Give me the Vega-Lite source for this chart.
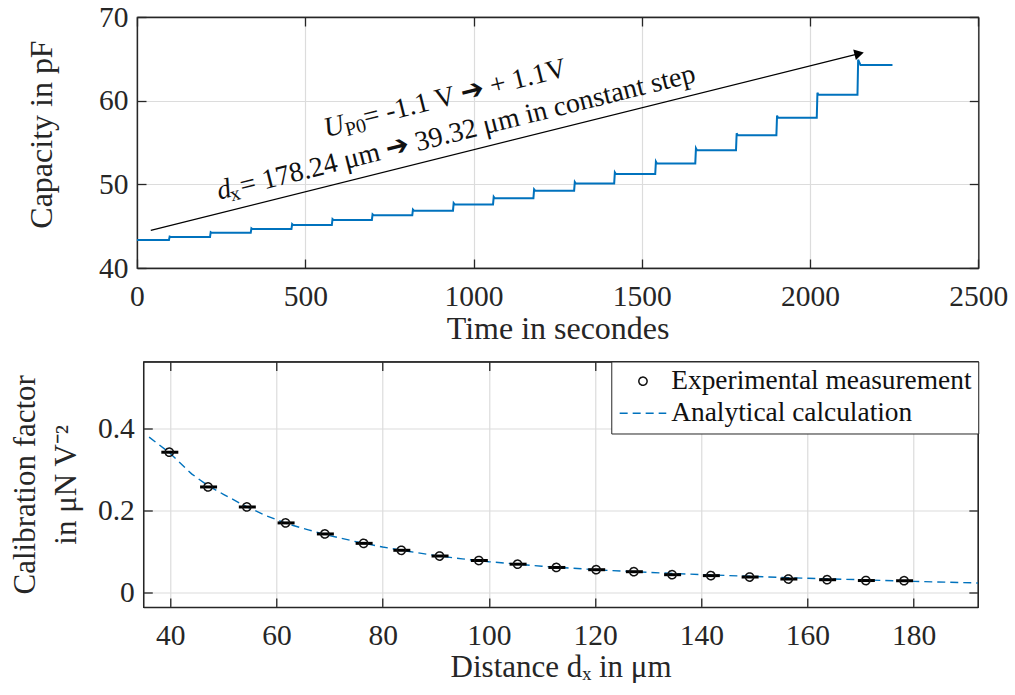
{
  "$schema": "https://vega.github.io/schema/vega-lite/v6.json",
  "background": "white",
  "padding": {"left": 8.7, "top": 1, "right": 5, "bottom": 0},
  "vconcat": [
    {
      "width": 841.3,
      "height": 251,
      "layer": [
        {
          "data": {"name": "series"},
          "mark": {"type": "line", "color": "#0072BD", "strokeWidth": 2},
          "encoding": {
            "x": {"field": "t", "type": "quantitative", "scale": {"domain": [0, 2500], "nice": false, "zero": false},
              "axis": {"orient": "bottom", "values": [0, 500, 1000, 1500, 2000, 2500], "title": "Time in secondes", "titleFontSize": 32, "grid": true}},
            "y": {"field": "c", "type": "quantitative", "scale": {"domain": [40, 70], "nice": false, "zero": false},
              "axis": {"orient": "left", "values": [40, 50, 60, 70], "title": "Capacity in pF", "titleFontSize": 32, "titlePadding": 40, "titleY": 117, "grid": true}}
          }
        },
        {
          "data": {"name": "arrow"},
          "mark": {"type": "rule", "color": "black", "strokeWidth": 1.2},
          "encoding": {
            "x": {"field": "t1", "type": "quantitative", "scale": {"domain": [0, 2500], "nice": false, "zero": false},
              "axis": {"orient": "top", "values": [0, 500, 1000, 1500, 2000, 2500], "labels": false, "title": null, "grid": false}},
            "y": {"field": "c1", "type": "quantitative", "scale": {"domain": [40, 70], "nice": false, "zero": false},
              "axis": {"orient": "right", "values": [40, 50, 60, 70], "labels": false, "title": null, "grid": false}},
            "x2": {"field": "t2"},
            "y2": {"field": "c2"}
          }
        },
        {
          "data": {"name": "head"},
          "mark": {"type": "point", "shape": "triangle-right", "filled": true, "color": "black", "opacity": 1, "size": 120, "angle": 346},
          "encoding": {
            "x": {"field": "t", "type": "quantitative", "axis": null},
            "y": {"field": "c", "type": "quantitative", "axis": null}
          }
        },
        {
          "data": {"name": "italic"},
          "mark": {"type": "text", "font": "Liberation Serif", "fontStyle": "italic", "fontSize": 28, "align": "left", "baseline": "alphabetic", "angle": 346, "color": "#111111"},
          "encoding": {
            "x": {"field": "t", "type": "quantitative", "axis": null},
            "y": {"field": "c", "type": "quantitative", "axis": null},
            "text": {"field": "s"}
          }
        },
        {
          "data": {"name": "sub"},
          "mark": {"type": "text", "font": "Liberation Serif", "fontSize": 20, "align": "left", "baseline": "alphabetic", "angle": 346, "color": "#111111"},
          "encoding": {
            "x": {"field": "t", "type": "quantitative", "axis": null},
            "y": {"field": "c", "type": "quantitative", "axis": null},
            "text": {"field": "s"}
          }
        },
        {
          "data": {"name": "main"},
          "mark": {"type": "text", "font": "Liberation Serif", "fontSize": 28, "align": "left", "baseline": "alphabetic", "angle": 346, "color": "#111111"},
          "encoding": {
            "x": {"field": "t", "type": "quantitative", "axis": null},
            "y": {"field": "c", "type": "quantitative", "axis": null},
            "text": {"field": "s"}
          }
        }
      ],
      "resolve": {"axis": {"x": "independent", "y": "independent"}}
    },
    {
      "width": 834.6,
      "height": 245.6,
      "layer": [
        {
          "data": {"name": "calc"},
          "mark": {"type": "line", "strokeWidth": 1.4},
          "encoding": {
            "x": {"field": "d", "type": "quantitative", "scale": {"domain": [34.9, 192.1], "nice": false, "zero": false},
              "axis": {"orient": "bottom", "values": [40, 60, 80, 100, 120, 140, 160, 180], "title": "Distance dₓ in μm", "grid": true}},
            "y": {"field": "v", "type": "quantitative", "scale": {"domain": [-0.036, 0.565], "nice": false, "zero": false},
              "axis": {"orient": "left", "values": [0, 0.2, 0.4], "title": ["Calibration factor", "in μN V⁻²"], "titleLineHeight": 41, "titlePadding": 15, "grid": true}},
            "color": {"field": "series", "type": "nominal", "scale": {"domain": ["Experimental measurement", "Analytical calculation"], "range": ["#111111", "#0072BD"]}, "legend": {"title": null}},
            "strokeDash": {"field": "series", "type": "nominal", "scale": {"domain": ["Experimental measurement", "Analytical calculation"], "range": [[1, 0], [8, 5]]}, "legend": {"title": null}}
          }
        },
        {
          "data": {"name": "exp"},
          "mark": {"type": "rule", "color": "black", "strokeWidth": 3},
          "encoding": {
            "x": {"field": "lo", "type": "quantitative", "axis": null},
            "x2": {"field": "hi"},
            "y": {"field": "v", "type": "quantitative", "axis": null}
          }
        },
        {
          "data": {"name": "exp"},
          "mark": {"type": "point", "filled": false, "size": 68, "strokeWidth": 1.5, "opacity": 1},
          "encoding": {
            "x": {"field": "d", "type": "quantitative",
              "axis": {"orient": "top", "values": [40, 60, 80, 100, 120, 140, 160, 180], "labels": false, "title": null, "grid": false}},
            "y": {"field": "v", "type": "quantitative",
              "axis": {"orient": "right", "values": [0, 0.2, 0.4], "labels": false, "title": " ", "titleFontSize": 23, "titlePadding": 0, "grid": false}},
            "color": {"field": "series", "type": "nominal", "scale": {"domain": ["Experimental measurement", "Analytical calculation"], "range": ["#111111", "#0072BD"]}, "legend": {"title": null}},
            "shape": {"field": "series", "type": "nominal", "scale": {"domain": ["Experimental measurement", "Analytical calculation"], "range": ["circle", "M-5.65,0H5.65"]}, "legend": {"title": null}},
            "strokeDash": {"field": "series", "type": "nominal", "scale": {"domain": ["Experimental measurement", "Analytical calculation"], "range": [[1, 0], [8, 5]]}, "legend": {"title": null}}
          }
        }
      ],
      "resolve": {"axis": {"x": "independent", "y": "independent"}}
    }
  ],
  "center": true,
  "spacing": 14.5,
  "resolve": {
    "scale": {"color": "independent", "shape": "independent", "strokeDash": "independent"},
    "legend": {"color": "independent", "shape": "independent", "strokeDash": "independent"}
  },
  "config": {
    "font": "Liberation Serif",
    "view": {"stroke": "#262626", "strokeWidth": 1.2},
    "axis": {
      "labelFont": "Liberation Serif", "labelFontSize": 29.5, "labelColor": "#262626",
      "titleFont": "Liberation Serif", "titleFontSize": 31, "titleFontWeight": "normal", "titleColor": "#262626",
      "domainColor": "#262626", "domainWidth": 1.3,
      "tickColor": "#262626", "tickWidth": 1.3, "tickSize": -9,
      "gridColor": "#dcdcdc", "gridWidth": 1.2,
      "labelFlush": false, "labelOverlap": false, "format": "~r"
    },
    "axisX": {"labelPadding": 23.8, "titlePadding": 2},
    "axisY": {"labelPadding": 18},
    "legend": {
      "orient": "top-right", "offset": 0, "padding": 6,
      "strokeColor": "#262626", "fillColor": "white",
      "labelFont": "Liberation Serif", "labelFontSize": 27.4, "labelColor": "#111111", "labelLimit": 0,
      "symbolSize": 68, "symbolStrokeWidth": 1.5, "symbolOffset": 12, "labelOffset": 14.6, "rowPadding": 3
    }
  },
  "datasets": {
    "series": [
      {"t": 0, "c": 43.35}, {"t": 95, "c": 43.35}, {"t": 97, "c": 43.75}, {"t": 100, "c": 43.7},
      {"t": 217, "c": 43.7}, {"t": 219, "c": 44.28}, {"t": 222, "c": 44.2},
      {"t": 338, "c": 44.2}, {"t": 340, "c": 44.75}, {"t": 343, "c": 44.66},
      {"t": 459, "c": 44.66}, {"t": 461, "c": 45.25}, {"t": 464, "c": 45.14},
      {"t": 579, "c": 45.14}, {"t": 581, "c": 45.85}, {"t": 584, "c": 45.74},
      {"t": 698, "c": 45.74}, {"t": 700, "c": 46.42}, {"t": 703, "c": 46.3},
      {"t": 818, "c": 46.3}, {"t": 820, "c": 46.98}, {"t": 823, "c": 46.85},
      {"t": 939, "c": 46.85}, {"t": 941, "c": 47.75}, {"t": 944, "c": 47.6},
      {"t": 1058, "c": 47.6}, {"t": 1060, "c": 48.5}, {"t": 1063, "c": 48.33},
      {"t": 1178, "c": 48.33}, {"t": 1180, "c": 49.4}, {"t": 1183, "c": 49.24},
      {"t": 1299, "c": 49.24}, {"t": 1301, "c": 50.28}, {"t": 1304, "c": 50.1},
      {"t": 1418, "c": 50.1}, {"t": 1420, "c": 51.42}, {"t": 1423, "c": 51.23},
      {"t": 1540, "c": 51.23}, {"t": 1542, "c": 52.72}, {"t": 1545, "c": 52.5},
      {"t": 1659, "c": 52.5}, {"t": 1661, "c": 54.3}, {"t": 1664, "c": 54.07},
      {"t": 1780, "c": 54.07}, {"t": 1782, "c": 56.1}, {"t": 1785, "c": 55.86},
      {"t": 1900, "c": 55.86}, {"t": 1902, "c": 58.22}, {"t": 1905, "c": 57.97},
      {"t": 2020, "c": 57.97}, {"t": 2022, "c": 60.95}, {"t": 2025, "c": 60.7},
      {"t": 2141, "c": 60.7}, {"t": 2143, "c": 64.9}, {"t": 2150, "c": 64.26},
      {"t": 2245, "c": 64.26}
    ],
    "arrow": [{"t1": 41, "c1": 44.5, "t2": 2146, "c2": 65.63}],
    "head": [{"t": 2146, "c": 65.63}],
    "italic": [{"t": 562.7, "c": 55.62, "s": "U"}, {"t": 244.6, "c": 48.15, "s": "d"}],
    "sub": [{"t": 623.7, "c": 55.74, "s": "P0"}, {"t": 281.8, "c": 47.97, "s": "x"}],
    "main": [{"t": 680.1, "c": 56.94, "s": "= -1.1 V ➔  + 1.1V"}, {"t": 313.0, "c": 48.75, "s": "= 178.24 μm ➔  39.32 μm in constant step"}],
    "exp": [
      {"d": 39.8, "v": 0.343, "lo": 38.3, "hi": 41.5, "series": "Experimental measurement"},
      {"d": 47.1, "v": 0.258, "lo": 45.6, "hi": 48.8, "series": "Experimental measurement"},
      {"d": 54.4, "v": 0.209, "lo": 52.9, "hi": 56.1, "series": "Experimental measurement"},
      {"d": 61.7, "v": 0.170, "lo": 60.2, "hi": 63.4, "series": "Experimental measurement"},
      {"d": 69.1, "v": 0.143, "lo": 67.6, "hi": 70.8, "series": "Experimental measurement"},
      {"d": 76.4, "v": 0.120, "lo": 74.9, "hi": 78.1, "series": "Experimental measurement"},
      {"d": 83.5, "v": 0.103, "lo": 82.0, "hi": 85.2, "series": "Experimental measurement"},
      {"d": 90.7, "v": 0.089, "lo": 89.2, "hi": 92.4, "series": "Experimental measurement"},
      {"d": 98.1, "v": 0.078, "lo": 96.6, "hi": 99.8, "series": "Experimental measurement"},
      {"d": 105.4, "v": 0.069, "lo": 103.9, "hi": 107.1, "series": "Experimental measurement"},
      {"d": 112.7, "v": 0.061, "lo": 111.2, "hi": 114.4, "series": "Experimental measurement"},
      {"d": 120.2, "v": 0.0555, "lo": 118.7, "hi": 121.9, "series": "Experimental measurement"},
      {"d": 127.3, "v": 0.0506, "lo": 125.8, "hi": 129.0, "series": "Experimental measurement"},
      {"d": 134.5, "v": 0.0433, "lo": 133.0, "hi": 136.2, "series": "Experimental measurement"},
      {"d": 141.8, "v": 0.041, "lo": 140.3, "hi": 143.5, "series": "Experimental measurement"},
      {"d": 149.1, "v": 0.0376, "lo": 147.6, "hi": 150.8, "series": "Experimental measurement"},
      {"d": 156.4, "v": 0.0327, "lo": 154.9, "hi": 158.1, "series": "Experimental measurement"},
      {"d": 163.7, "v": 0.031, "lo": 162.2, "hi": 165.4, "series": "Experimental measurement"},
      {"d": 171.0, "v": 0.029, "lo": 169.5, "hi": 172.7, "series": "Experimental measurement"},
      {"d": 178.2, "v": 0.0285, "lo": 176.7, "hi": 179.9, "series": "Experimental measurement"}
    ],
    "calc": [
      {"d": 36, "v": 0.380, "series": "Analytical calculation"},
      {"d": 40, "v": 0.340, "series": "Analytical calculation"},
      {"d": 44, "v": 0.290, "series": "Analytical calculation"},
      {"d": 47, "v": 0.262, "series": "Analytical calculation"},
      {"d": 50, "v": 0.240, "series": "Analytical calculation"},
      {"d": 54, "v": 0.212, "series": "Analytical calculation"},
      {"d": 58, "v": 0.188, "series": "Analytical calculation"},
      {"d": 62, "v": 0.168, "series": "Analytical calculation"},
      {"d": 66, "v": 0.153, "series": "Analytical calculation"},
      {"d": 70, "v": 0.139, "series": "Analytical calculation"},
      {"d": 75, "v": 0.124, "series": "Analytical calculation"},
      {"d": 80, "v": 0.111, "series": "Analytical calculation"},
      {"d": 85, "v": 0.100, "series": "Analytical calculation"},
      {"d": 90, "v": 0.090, "series": "Analytical calculation"},
      {"d": 95, "v": 0.082, "series": "Analytical calculation"},
      {"d": 100, "v": 0.075, "series": "Analytical calculation"},
      {"d": 110, "v": 0.064, "series": "Analytical calculation"},
      {"d": 120, "v": 0.0555, "series": "Analytical calculation"},
      {"d": 130, "v": 0.049, "series": "Analytical calculation"},
      {"d": 140, "v": 0.0435, "series": "Analytical calculation"},
      {"d": 150, "v": 0.039, "series": "Analytical calculation"},
      {"d": 160, "v": 0.0345, "series": "Analytical calculation"},
      {"d": 170, "v": 0.031, "series": "Analytical calculation"},
      {"d": 180, "v": 0.027, "series": "Analytical calculation"},
      {"d": 192.1, "v": 0.023, "series": "Analytical calculation"}
    ]
  }
}
